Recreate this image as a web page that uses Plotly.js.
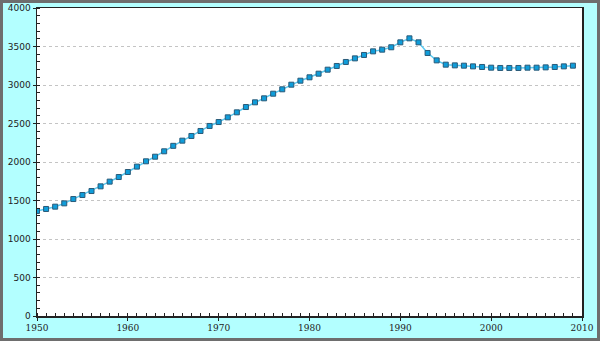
<!DOCTYPE html>
<html>
<head>
<meta charset="utf-8">
<script src="https://cdn.plot.ly/plotly-3.0.1.min.js"></script>
<style>
html,body{margin:0;padding:0;background:#b3ffff;}
#wrap{position:relative;width:600px;height:341px;}
#chart{width:600px;height:341px;}
#frame{position:absolute;left:0;top:0;width:600px;height:341px;box-sizing:border-box;border:3px solid #6e6e6e;pointer-events:none;}
</style>
</head>
<body>
<div id="wrap"><div id="chart"></div><div id="frame"></div></div>
<script>
const years = [1950,1951,1952,1953,1954,1955,1956,1957,1958,1959,
1960,1961,1962,1963,1964,1965,1966,1967,1968,1969,
1970,1971,1972,1973,1974,1975,1976,1977,1978,1979,
1980,1981,1982,1983,1984,1985,1986,1987,1988,1989,
1990,1991,1992,1993,1994,1995,1996,1997,1998,1999,
2000,2001,2002,2003,2004,2005,2006,2007,2008,2009];
const population = [1364,1390,1420,1463,1519,1571,1623,1684,1745,1805,
1870,1940,2009,2069,2139,2210,2277,2338,2403,2468,
2519,2580,2645,2714,2775,2827,2887,2944,3004,3056,
3100,3147,3199,3247,3299,3346,3390,3437,3459,3490,
3554,3606,3554,3416,3320,3264,3255,3251,3242,3234,
3225,3221,3221,3221,3225,3225,3229,3234,3242,3251];
const xTicks = [1950,1960,1970,1980,1990,2000,2010];
const yTicks = [0,500,1000,1500,2000,2500,3000,3500,4000];

Plotly.newPlot('chart', [{
  x: years, y: population, type: 'scatter', mode: 'lines+markers',
  line: {color: '#5ccbf2', width: 1.5},
  marker: {symbol: 'square', size: 5, color: '#0f9dda', line: {color: '#2a5a78', width: 1}},
  hoverinfo: 'none'
}], {
  width: 600, height: 341,
  margin: {l: 37, r: 18, t: 8, b: 25},
  paper_bgcolor: '#b3ffff', plot_bgcolor: '#ffffff',
  showlegend: false,
  xaxis: {
    range: [1950, 2010], tickvals: xTicks, ticktext: xTicks.map(String),
    showgrid: false, zeroline: false,
    showline: true, linecolor: '#222', linewidth: 1.5, mirror: true,
    ticks: 'outside', ticklen: 3, tickcolor: '#222', tickwidth: 1,
    minor: {dtick: 1, ticks: 'inside', ticklen: 3, tickcolor: '#222', showgrid: false},
    tickfont: {family: 'DejaVu Serif', size: 9, color: '#222'}
  },
  yaxis: {
    range: [0, 4000], tickvals: yTicks, ticktext: yTicks.map(String),
    showgrid: true, gridcolor: '#c4c4c4', griddash: 'dot', gridwidth: 1,
    zeroline: false,
    showline: true, linecolor: '#222', linewidth: 1.5, mirror: true,
    ticks: 'outside', ticklen: 3, tickcolor: '#222', tickwidth: 1,
    minor: {dtick: 100, ticks: 'inside', ticklen: 3, tickcolor: '#222', showgrid: false},
    tickfont: {family: 'DejaVu Sans', size: 9, color: '#222'}
  }
}, {staticPlot: true});
</script>
</body>
</html>
